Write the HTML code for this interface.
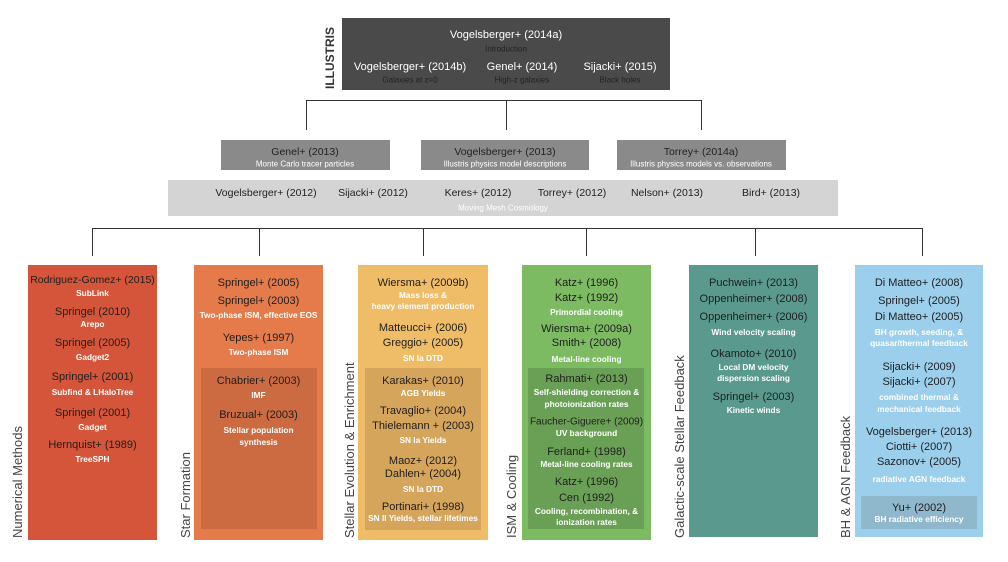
<!DOCTYPE html>
<html><head><meta charset="utf-8"><style>
body{margin:0;width:1008px;height:562px;background:#fff;position:relative;overflow:hidden;font-family:"Liberation Sans",sans-serif}
.a{position:absolute}
.c{position:absolute;white-space:nowrap;transform:translate(-50%,-50%)}
.col{position:absolute;top:265px;height:275px}
.col .t,.col .s{position:absolute;left:0;width:100%;text-align:center;transform:translateY(-50%);white-space:nowrap}
.t{font-size:11px;color:#1e1e1e}
.s{font-size:8.3px;color:#fff;font-weight:600}
.vl{position:absolute;transform-origin:left top;transform:rotate(-90deg);font-size:13px;color:#444;white-space:nowrap}
.ln{position:absolute;background:#333}
</style></head><body>
<div class="a" style="left:342px;top:18px;width:328px;height:72px;background:#4a4a4a"></div>
<div class="vl" style="left:323px;top:89px;font-weight:bold;font-size:12px;color:#333">ILLUSTRIS</div>
<div class="c" style="left:506px;top:35px;font-size:11px;color:#fff">Vogelsberger+ (2014a)</div>
<div class="c" style="left:506px;top:49px;font-size:8px;color:#222">Introduction</div>
<div class="c" style="left:410px;top:67px;font-size:11px;color:#fff">Vogelsberger+ (2014b)</div>
<div class="c" style="left:410px;top:80px;font-size:8px;color:#222">Galaxies at z=0</div>
<div class="c" style="left:522px;top:67px;font-size:11px;color:#fff">Genel+ (2014)</div>
<div class="c" style="left:522px;top:80px;font-size:8px;color:#222">High-z galaxies</div>
<div class="c" style="left:620px;top:67px;font-size:11px;color:#fff">Sijacki+ (2015)</div>
<div class="c" style="left:620px;top:80px;font-size:8px;color:#222">Black holes</div>
<div class="ln" style="left:306px;top:100px;width:396px;height:1px"></div>
<div class="ln" style="left:306px;top:100px;width:1px;height:30px"></div>
<div class="ln" style="left:506px;top:100px;width:1px;height:30px"></div>
<div class="ln" style="left:701px;top:100px;width:1px;height:30px"></div>
<div class="a" style="left:221px;top:140px;width:169px;height:30px;background:#8a8a8a"></div>
<div class="a" style="left:421px;top:140px;width:168px;height:30px;background:#8a8a8a"></div>
<div class="a" style="left:617px;top:140px;width:169px;height:30px;background:#8a8a8a"></div>
<div class="c" style="left:305px;top:152px;font-size:10.5px;color:#222">Genel+ (2013)</div>
<div class="c" style="left:305px;top:164px;font-size:8px;color:#fff">Monte Carlo tracer particles</div>
<div class="c" style="left:505px;top:152px;font-size:10.5px;color:#222">Vogelsberger+ (2013)</div>
<div class="c" style="left:505px;top:164px;font-size:8px;color:#fff">Illustris physics model descriptions</div>
<div class="c" style="left:701px;top:152px;font-size:10.5px;color:#222">Torrey+ (2014a)</div>
<div class="c" style="left:701px;top:164px;font-size:8px;color:#fff">Illustris physics models vs. observations</div>
<div class="a" style="left:168px;top:180px;width:670px;height:36px;background:#d4d4d4"></div>
<div class="c" style="left:266px;top:193px;font-size:10.5px;color:#222">Vogelsberger+ (2012)</div>
<div class="c" style="left:373px;top:193px;font-size:10.5px;color:#222">Sijacki+ (2012)</div>
<div class="c" style="left:478px;top:193px;font-size:10.5px;color:#222">Keres+ (2012)</div>
<div class="c" style="left:572px;top:193px;font-size:10.5px;color:#222">Torrey+ (2012)</div>
<div class="c" style="left:667px;top:193px;font-size:10.5px;color:#222">Nelson+ (2013)</div>
<div class="c" style="left:771px;top:193px;font-size:10.5px;color:#222">Bird+ (2013)</div>
<div class="c" style="left:503px;top:208px;font-size:8px;color:#fff">Moving Mesh Cosmology</div>
<div class="ln" style="left:92px;top:228px;width:831px;height:1px"></div>
<div class="ln" style="left:92px;top:228px;width:1px;height:28px"></div>
<div class="ln" style="left:259px;top:228px;width:1px;height:28px"></div>
<div class="ln" style="left:423px;top:228px;width:1px;height:28px"></div>
<div class="ln" style="left:586px;top:228px;width:1px;height:28px"></div>
<div class="ln" style="left:755px;top:228px;width:1px;height:28px"></div>
<div class="ln" style="left:922px;top:228px;width:1px;height:28px"></div>
<div class="vl" style="left:10px;top:538px">Numerical Methods</div>
<div class="vl" style="left:178px;top:538px">Star Formation</div>
<div class="vl" style="left:342px;top:538px">Stellar Evolution &amp; Enrichment</div>
<div class="vl" style="left:504px;top:538px">ISM &amp; Cooling</div>
<div class="vl" style="left:672px;top:538px">Galactic-scale Stellar Feedback</div>
<div class="vl" style="left:838px;top:538px">BH &amp; AGN Feedback</div>
<div class="col" style="left:28px;width:129px;background:#d4553a">
<div class="t" style="top:15px;font-size:10.5px">Rodriguez-Gomez+ (2015)</div><div class="s" style="top:28px">SubLink</div>
<div class="t" style="top:47px">Springel (2010)</div><div class="s" style="top:59px">Arepo</div>
<div class="t" style="top:78px">Springel (2005)</div><div class="s" style="top:92px">Gadget2</div>
<div class="t" style="top:112px">Springel+ (2001)</div><div class="s" style="top:127px">Subfind &amp; LHaloTree</div>
<div class="t" style="top:148px">Springel (2001)</div><div class="s" style="top:162px">Gadget</div>
<div class="t" style="top:180px">Hernquist+ (1989)</div><div class="s" style="top:194px">TreeSPH</div>
</div>
<div class="col" style="left:194px;width:129px;background:#e57a4a">
<div class="a" style="left:7px;top:103px;width:116px;height:161px;background:#cc6a42"></div>
<div class="t" style="top:18px">Springel+ (2005)</div>
<div class="t" style="top:36px">Springel+ (2003)</div><div class="s" style="top:50px">Two-phase ISM, effective EOS</div>
<div class="t" style="top:73px">Yepes+ (1997)</div><div class="s" style="top:87px">Two-phase ISM</div>
<div class="t" style="top:116px">Chabrier+ (2003)</div><div class="s" style="top:130px">IMF</div>
<div class="t" style="top:150px">Bruzual+ (2003)</div><div class="s" style="top:165px">Stellar population</div><div class="s" style="top:177px">synthesis</div>
</div>
<div class="col" style="left:358px;width:130px;background:#efbd68">
<div class="a" style="left:7px;top:103px;width:116px;height:162px;background:#d6a55c"></div>
<div class="t" style="top:18px">Wiersma+ (2009b)</div><div class="s" style="top:30px">Mass loss &amp;</div><div class="s" style="top:41px">heavy element production</div>
<div class="t" style="top:63px">Matteucci+ (2006)</div><div class="t" style="top:78px">Greggio+ (2005)</div><div class="s" style="top:93px">SN Ia DTD</div>
<div class="t" style="top:116px">Karakas+ (2010)</div><div class="s" style="top:128px">AGB Yields</div>
<div class="t" style="top:146px">Travaglio+ (2004)</div><div class="t" style="top:161px">Thielemann + (2003)</div><div class="s" style="top:175px">SN Ia Yields</div>
<div class="t" style="top:196px">Maoz+ (2012)</div><div class="t" style="top:209px">Dahlen+ (2004)</div><div class="s" style="top:224px">SN Ia DTD</div>
<div class="t" style="top:242px">Portinari+ (1998)</div><div class="s" style="top:253px">SN II Yields, stellar lifetimes</div>
</div>
<div class="col" style="left:522px;width:129px;background:#7dbb62">
<div class="a" style="left:6px;top:103px;width:116px;height:161px;background:#6aa055"></div>
<div class="t" style="top:18px">Katz+ (1996)</div><div class="t" style="top:33px">Katz+ (1992)</div><div class="s" style="top:47px">Primordial cooling</div>
<div class="t" style="top:64px">Wiersma+ (2009a)</div><div class="t" style="top:78px">Smith+ (2008)</div><div class="s" style="top:94px">Metal-line cooling</div>
<div class="t" style="top:114px">Rahmati+ (2013)</div><div class="s" style="top:127px">Self-shielding correction &amp;</div><div class="s" style="top:139px">photoionization rates</div>
<div class="t" style="top:157px;font-size:10px">Faucher-Giguere+ (2009)</div><div class="s" style="top:168px">UV background</div>
<div class="t" style="top:187px">Ferland+ (1998)</div><div class="s" style="top:199px">Metal-line cooling rates</div>
<div class="t" style="top:217px">Katz+ (1996)</div><div class="t" style="top:233px">Cen (1992)</div><div class="s" style="top:246px">Cooling, recombination, &amp;</div><div class="s" style="top:257px">ionization rates</div>
</div>
<div class="col" style="left:689px;width:129px;height:272px;background:#5a9a8e">
<div class="t" style="top:18px">Puchwein+ (2013)</div><div class="t" style="top:34px">Oppenheimer+ (2008)</div><div class="t" style="top:52px">Oppenheimer+ (2006)</div><div class="s" style="top:67px">Wind velocity scaling</div>
<div class="t" style="top:89px">Okamoto+ (2010)</div><div class="s" style="top:102px">Local DM velocity</div><div class="s" style="top:113px">dispersion scaling</div>
<div class="t" style="top:132px">Springel+ (2003)</div><div class="s" style="top:145px">Kinetic winds</div>
</div>
<div class="col" style="left:855px;width:128px;height:272px;background:#9ccfeb">
<div class="a" style="left:6px;top:231px;width:116px;height:33px;background:#8fb8cc"></div>
<div class="t" style="top:18px">Di Matteo+ (2008)</div><div class="t" style="top:36px">Springel+ (2005)</div><div class="t" style="top:52px">Di Matteo+ (2005)</div><div class="s" style="top:67px">BH growth, seeding, &amp;</div><div class="s" style="top:78px">quasar/thermal feedback</div>
<div class="t" style="top:102px">Sijacki+ (2009)</div><div class="t" style="top:117px">Sijacki+ (2007)</div><div class="s" style="top:132px">combined thermal &amp;</div><div class="s" style="top:144px">mechanical feedback</div>
<div class="t" style="top:167px">Vogelsberger+ (2013)</div><div class="t" style="top:182px">Ciotti+ (2007)</div><div class="t" style="top:197px">Sazonov+ (2005)</div><div class="s" style="top:214px">radiative AGN feedback</div>
<div class="t" style="top:243px">Yu+ (2002)</div><div class="s" style="top:254px">BH radiative efficiency</div>
</div>
</body></html>
